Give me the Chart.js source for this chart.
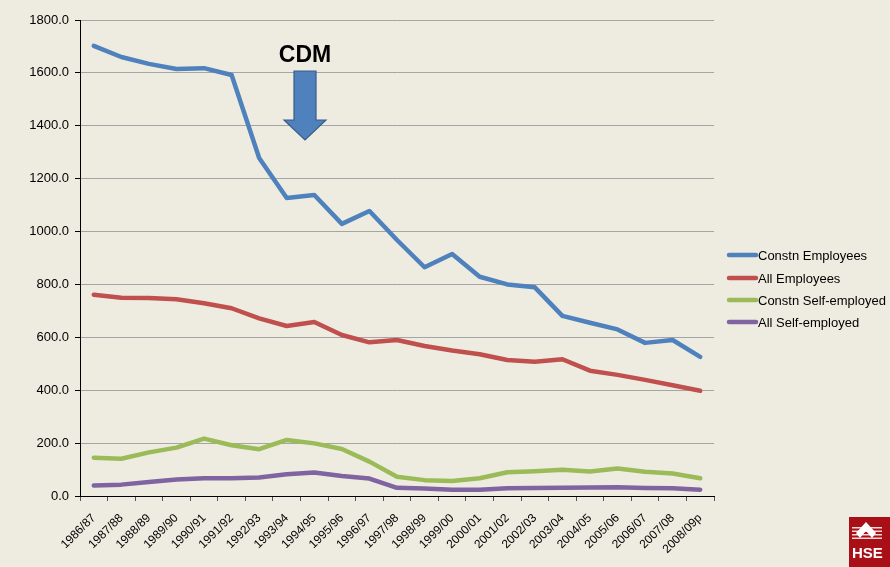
<!DOCTYPE html>
<html>
<head>
<meta charset="utf-8">
<script src="https://cdn.jsdelivr.net/npm/chart.js@4.4.1/dist/chart.umd.min.js"></script>
<style>
  html, body { margin: 0; padding: 0; background: #EEECE1; }
  #wrap { position: relative; width: 890px; height: 567px; overflow: hidden; }
  canvas { display: block; }
</style>
</head>
<body>
<div id="wrap"><canvas id="c" width="890" height="567"></canvas></div>
<script>
const categories = ['1986/87','1987/88','1988/89','1989/90','1990/91','1991/92','1992/93','1993/94','1994/95','1995/96','1996/97','1997/98','1998/99','1999/00','2000/01','2001/02','2002/03','2003/04','2004/05','2005/06','2006/07','2007/08','2008/09p'];
const constnEmployees = [1702,1660,1634,1615,1618,1592,1278,1127,1138,1029,1078,968,865,915,829,800,789,681,655,630,579,590,526];
const allEmployees = [761,750,749,744,729,710,672,643,658,609,581,590,567,550,536,514,508,517,474,458,439,419,398];
const constnSelfEmployed = [145,141,165,183,217,192,177,212,199,178,130,73,60,57,67,90,94,99,93,104,92,85,67];
const allSelfEmployed = [40,43,53,62,67,67,70,82,89,76,66,31,28,24,24,29,30,31,32,33,30,29,24];
const seriesNames = ['Constn Employees','All Employees','Constn Self-employed','All Self-employed'];
const seriesColors = ['#4F81BD','#C0504D','#9BBB59','#8064A2'];
const yTicks = [0,200,400,600,800,1000,1200,1400,1600,1800];

const FONT = '"Liberation Sans", Arial, sans-serif';

const mkDs = (i, data) => ({
  label: seriesNames[i], data, borderColor: seriesColors[i], backgroundColor: seriesColors[i],
  borderWidth: 4.5, pointRadius: 0, tension: 0, borderCapStyle: 'round', borderJoinStyle: 'round', fill: false
});

const decorPlugin = {
  id: 'decor',
  afterDraw(chart) {
    const ctx = chart.ctx;
    // legend
    ctx.save();
    const rows = [255, 278, 300, 322];
    chart.data.datasets.forEach((ds, i) => {
      const y = rows[i];
      ctx.strokeStyle = ds.borderColor;
      ctx.lineWidth = 4.5;
      ctx.lineCap = 'round';
      ctx.beginPath(); ctx.moveTo(729, y); ctx.lineTo(756, y); ctx.stroke();
      ctx.fillStyle = '#000';
      ctx.font = '13px ' + FONT;
      ctx.textBaseline = 'middle';
      ctx.textAlign = 'left';
      ctx.fillText(ds.label, 758, y + 1);
    });
    // CDM annotation
    ctx.fillStyle = '#000';
    ctx.font = 'bold 23px ' + FONT;
    ctx.textAlign = 'center';
    ctx.textBaseline = 'alphabetic';
    ctx.fillText('CDM', 305, 62);
    ctx.beginPath();
    ctx.moveTo(294, 71); ctx.lineTo(316, 71); ctx.lineTo(316, 120); ctx.lineTo(326, 120);
    ctx.lineTo(305, 140); ctx.lineTo(284, 120); ctx.lineTo(294, 120); ctx.closePath();
    ctx.fillStyle = '#4F81BD';
    ctx.fill();
    ctx.strokeStyle = '#385D8A';
    ctx.lineWidth = 1.2;
    ctx.lineJoin = 'miter';
    ctx.stroke();
    // HSE logo (clipped at right edge)
    ctx.fillStyle = '#A80F16';
    ctx.fillRect(849, 517, 45, 52);
    ctx.fillStyle = '#F4D9D9';
    for (let k = 0; k < 4; k++) ctx.fillRect(852, 527 + k * 3.5, 30, 1.5);
    ctx.fillStyle = '#fff';
    ctx.beginPath();
    ctx.moveTo(866, 522); ctx.lineTo(876, 533); ctx.lineTo(872, 538); ctx.lineTo(866, 531); ctx.lineTo(860, 538); ctx.lineTo(856, 533); ctx.closePath();
    ctx.fill();
    ctx.font = 'bold 15px ' + FONT;
    ctx.textAlign = 'left';
    ctx.fillText('HSE', 852, 558);
    ctx.restore();
  }
};

new Chart(document.getElementById('c'), {
  type: 'line',
  data: {
    labels: categories,
    datasets: [
      mkDs(0, constnEmployees),
      mkDs(1, allEmployees),
      mkDs(2, constnSelfEmployed),
      mkDs(3, allSelfEmployed)
    ]
  },
  options: {
    responsive: false,
    animation: false,
    layout: { padding: { top: 20, right: 176, bottom: 0, left: 0 } },
    plugins: { legend: { display: false }, tooltip: { enabled: false } },
    scales: {
      x: {
        type: 'category',
        offset: true,
        grid: { offset: true, drawOnChartArea: false, drawTicks: true, tickLength: 5, color: '#555', lineWidth: 1 },
        border: { display: true, color: '#000', width: 1 },
        ticks: { autoSkip: false, minRotation: 45, maxRotation: 45, padding: 10, color: '#000', font: { family: FONT, size: 12 } },
        afterFit(s) { s.height = 71; }
      },
      y: {
        min: 0, max: 1800,
        afterBuildTicks(s) { s.ticks = yTicks.map(v => ({ value: v })); },
        grid: { color: '#A5A5A5', lineWidth: 1, drawTicks: true, tickLength: 5, tickColor: '#000' },
        border: { display: true, color: '#000', width: 1 },
        ticks: { padding: 6, color: '#000', font: { family: FONT, size: 13 }, callback: v => Number(v).toFixed(1) },
        afterFit(s) { s.width = 80; }
      }
    }
  },
  plugins: [decorPlugin]
});
</script>
</body>
</html>
